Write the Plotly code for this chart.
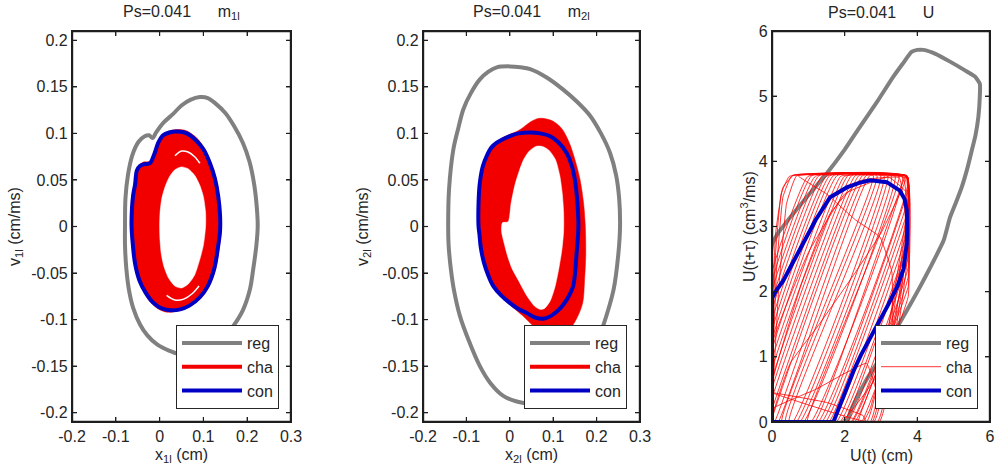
import plotly.graph_objects as go

W, H = 995, 475
FONT = "Liberation Sans, Arial, sans-serif"
AX = "#262626"
FRAME = "#1e1e1e"
GRAY = "#808080"
RED = "#f20000"
BLUE = "#0000c4"

# ---------------- tick values / labels ----------------
p12_xticks = [-0.2, -0.1, 0, 0.1, 0.2, 0.3]
p12_xlabels = ["-0.2", "-0.1", "0", "0.1", "0.2", "0.3"]
p12_yticks = [-0.2, -0.15, -0.1, -0.05, 0, 0.05, 0.1, 0.15, 0.2]
p12_ylabels = ["-0.2", "-0.15", "-0.1", "-0.05", "0", "0.05", "0.1", "0.15", "0.2"]
p3_xticks = [0, 2, 4, 6]
p3_yticks = [0, 1, 2, 3, 4, 5, 6]

# ---------------- panel 1 : m1l  (x1l, v1l) ----------------
reg1 = [(-0.079, 0.0), (-0.078, 0.03), (-0.072, 0.056), (-0.062, 0.077), (-0.048, 0.091),
        (-0.034, 0.097), (-0.024, 0.098), (-0.016, 0.095), (-0.008, 0.101), (0.01, 0.112),
        (0.031, 0.121), (0.05, 0.13), (0.07, 0.136), (0.092, 0.139), (0.11, 0.138),
        (0.128, 0.132), (0.15, 0.122), (0.17, 0.108), (0.19, 0.09), (0.205, 0.07),
        (0.216, 0.045), (0.222, 0.02), (0.224, 0.0), (0.221, -0.02), (0.214, -0.045),
        (0.206, -0.068), (0.19, -0.09), (0.168, -0.107), (0.14, -0.123), (0.105, -0.134),
        (0.075, -0.138), (0.045, -0.137), (0.02, -0.133), (-0.005, -0.127), (-0.028, -0.117),
        (-0.045, -0.105), (-0.06, -0.088), (-0.07, -0.068), (-0.076, -0.045), (-0.079, -0.02),
        (-0.079, 0.0)]
con1 = [(-0.064, 0.0), (-0.063, 0.02), (-0.06, 0.035), (-0.056, 0.045), (-0.052, 0.06),
        (-0.045, 0.065), (-0.035, 0.067), (-0.022, 0.068), (-0.012, 0.078), (-0.003, 0.09),
        (0.008, 0.098), (0.022, 0.101), (0.04, 0.102), (0.062, 0.1), (0.082, 0.093),
        (0.1, 0.083), (0.115, 0.068), (0.126, 0.052), (0.134, 0.032), (0.138, 0.012),
        (0.138, -0.005), (0.134, -0.02), (0.125, -0.045), (0.11, -0.064), (0.092, -0.076),
        (0.068, -0.085), (0.047, -0.089), (0.025, -0.09), (0.005, -0.088), (-0.014, -0.082),
        (-0.032, -0.071), (-0.046, -0.058), (-0.056, -0.04), (-0.061, -0.02), (-0.064, 0.0)]
cha1_outer = [(-0.066, 0.0), (-0.064, 0.03), (-0.058, 0.046), (-0.052, 0.062), (-0.038, 0.069),
              (-0.022, 0.07), (-0.01, 0.082), (0.0, 0.094), (0.015, 0.101), (0.035, 0.104),
              (0.06, 0.103), (0.085, 0.095), (0.105, 0.082), (0.12, 0.065), (0.132, 0.045),
              (0.139, 0.02), (0.141, 0.0), (0.137, -0.02), (0.128, -0.045), (0.112, -0.065),
              (0.092, -0.078), (0.065, -0.087), (0.04, -0.091), (0.016, -0.092), (-0.005, -0.088),
              (-0.025, -0.079), (-0.042, -0.064), (-0.055, -0.045), (-0.062, -0.025), (-0.066, 0.0)]
cha1_inner = [(0.0, 0.0), (0.001, 0.015), (0.005, 0.03), (0.012, 0.042), (0.022, 0.053),
              (0.035, 0.061), (0.05, 0.064), (0.065, 0.062), (0.08, 0.055), (0.092, 0.044),
              (0.1, 0.032), (0.105, 0.015), (0.105, 0.0), (0.1, -0.02), (0.092, -0.035),
              (0.08, -0.052), (0.065, -0.062), (0.05, -0.066), (0.035, -0.064), (0.02, -0.055),
              (0.01, -0.043), (0.004, -0.03), (0.001, -0.015), (0.0, 0.0)]
cha1_gap_top = [(0.035, 0.076), (0.05, 0.081), (0.065, 0.08), (0.08, 0.075), (0.092, 0.068)]
cha1_gap_bot = [(0.016, -0.074), (0.035, -0.079), (0.055, -0.078), (0.075, -0.072), (0.09, -0.064)]

# ---------------- panel 2 : m2l  (x2l, v2l) ----------------
reg2 = [(-0.142, 0.0), (-0.14, 0.04), (-0.13, 0.083), (-0.118, 0.107), (-0.107, 0.126),
        (-0.09, 0.143), (-0.069, 0.158), (-0.05, 0.166), (-0.03, 0.171), (0.0, 0.172),
        (0.025, 0.171), (0.047, 0.169), (0.085, 0.16), (0.123, 0.147), (0.155, 0.134),
        (0.185, 0.119), (0.21, 0.1), (0.231, 0.079), (0.245, 0.055), (0.252, 0.03),
        (0.254, 0.0), (0.25, -0.03), (0.239, -0.068), (0.212, -0.111), (0.19, -0.138),
        (0.16, -0.16), (0.12, -0.178), (0.08, -0.188), (0.04, -0.19), (0.016, -0.188),
        (-0.015, -0.182), (-0.045, -0.168), (-0.069, -0.15), (-0.095, -0.122), (-0.115, -0.096),
        (-0.128, -0.07), (-0.136, -0.045), (-0.141, -0.02), (-0.142, 0.0)]
con2 = [(-0.072, 0.0), (-0.072, 0.025), (-0.069, 0.047), (-0.062, 0.065), (-0.053, 0.076),
        (-0.042, 0.085), (-0.03, 0.09), (-0.015, 0.094), (0.0, 0.097), (0.02, 0.1),
        (0.047, 0.101), (0.07, 0.1), (0.093, 0.097), (0.113, 0.09), (0.131, 0.079),
        (0.143, 0.065), (0.15, 0.05), (0.155, 0.03), (0.158, 0.0), (0.154, -0.028),
        (0.146, -0.064), (0.132, -0.078), (0.116, -0.088), (0.095, -0.096), (0.077, -0.099),
        (0.06, -0.098), (0.039, -0.093), (0.018, -0.088), (0.0, -0.082), (-0.02, -0.074),
        (-0.038, -0.064), (-0.05, -0.052), (-0.06, -0.038), (-0.067, -0.022), (-0.07, -0.008),
        (-0.072, 0.0)]
cha2_outer = [(-0.074, 0.0), (-0.073, 0.03), (-0.068, 0.055), (-0.058, 0.072), (-0.045, 0.084),
              (-0.025, 0.093), (0.0, 0.099), (0.02, 0.103), (0.035, 0.108), (0.05, 0.113),
              (0.065, 0.116), (0.08, 0.116), (0.1, 0.113), (0.12, 0.105), (0.137, 0.09),
              (0.15, 0.072), (0.162, 0.05), (0.17, 0.025), (0.174, 0.0), (0.175, -0.03),
              (0.172, -0.06), (0.168, -0.082), (0.155, -0.098), (0.138, -0.11), (0.115, -0.115),
              (0.09, -0.116), (0.07, -0.113), (0.05, -0.105), (0.03, -0.096), (0.01, -0.088),
              (-0.015, -0.078), (-0.035, -0.066), (-0.05, -0.052), (-0.062, -0.035),
              (-0.069, -0.018), (-0.074, 0.0)]
cha2_inner = [(-0.019, -0.005), (-0.017, 0.004), (-0.004, 0.005), (0.003, 0.025), (0.012, 0.045),
              (0.022, 0.06), (0.032, 0.072), (0.045, 0.081), (0.06, 0.086), (0.075, 0.086),
              (0.09, 0.082), (0.105, 0.072), (0.115, 0.055), (0.121, 0.035), (0.124, 0.015),
              (0.124, -0.005), (0.12, -0.025), (0.113, -0.045), (0.104, -0.065), (0.093, -0.08),
              (0.08, -0.088), (0.07, -0.089), (0.058, -0.086), (0.04, -0.075), (0.02, -0.058),
              (0.005, -0.045), (-0.005, -0.032), (-0.013, -0.018), (-0.019, -0.005)]

# ---------------- panel 3 : U  (U(t), U(t+tau)) ----------------
reg3 = [(0, 0), (0, 2.72), (0.17, 2.9), (0.5, 3.14), (1.0, 3.48), (1.5, 3.81), (2.0, 4.18),
        (2.42, 4.53), (2.9, 4.92), (3.34, 5.3), (3.6, 5.5), (3.84, 5.68), (4.0, 5.71),
        (4.17, 5.71), (4.5, 5.65), (4.9, 5.53), (5.3, 5.4), (5.59, 5.3), (5.72, 5.19),
        (5.72, 5.0), (5.68, 4.68), (5.6, 4.4), (5.5, 4.17), (5.38, 3.9), (5.22, 3.6),
        (5.05, 3.35), (4.9, 3.14), (4.72, 2.78), (4.4, 2.42), (4.07, 2.07), (3.7, 1.7),
        (3.34, 1.35), (3.0, 1.0), (2.6, 0.65), (2.33, 0.37), (2.15, 0.15), (2.06, 0.0), (0, 0)]
con3 = [(0, 0), (0, 1.9), (0.13, 2.03), (0.31, 2.17), (0.55, 2.42), (0.86, 2.73), (1.2, 3.1),
        (1.6, 3.45), (2.06, 3.6), (2.4, 3.67), (2.7, 3.71), (3.16, 3.68), (3.52, 3.55),
        (3.65, 3.42), (3.71, 3.25), (3.72, 3.0), (3.71, 2.73), (3.62, 2.35), (3.45, 2.08),
        (3.2, 1.8), (2.95, 1.55), (2.7, 1.3), (2.45, 1.03), (2.24, 0.78), (2.0, 0.45),
        (1.85, 0.25), (1.69, 0.0), (0, 0)]
# chaotic orbit: zig-zag of near-parallel rising / falling strokes (vertices)
cha3_path = [
    (0, 0.2), (2.39, 3.78), (3.19, 3.77), (0.67, 0), (0, 0), (0, 1.4), (1.59, 3.78),
    (3.72, 3.76), (3.75, 3.43), (1.47, 0), (0.27, 0), (2.79, 3.78), (1.99, 3.77), (0, 0.8),
    (0, 0), (1.07, 0), (3.59, 3.78), (1.19, 3.77), (0, 2.0), (0, 0), (1.87, 0), (3.75, 2.83),
    (3.72, 3.77), (2.59, 3.78), (0.07, 0), (0, 0), (0, 1.1), (1.79, 3.78), (3.72, 3.77),
    (3.75, 2.53), (2.07, 0), (0, 0), (0, 0.5), (2.19, 3.78), (3.39, 3.77), (0.87, 0), (0, 0),
    (0, 1.7), (1.39, 3.78), (3.72, 3.77), (3.75, 3.13), (1.67, 0), (0.47, 0), (2.99, 3.78),
    (0.99, 3.77), (0, 2.3), (0, 0), (1.27, 0), (3.75, 3.73), (2.49, 3.78), (0, 0.05), (0, 0),
    (2.27, 0), (3.75, 2.23), (3.72, 3.77), (1.69, 3.78), (0, 1.25), (0, 0), (0.17, 0),
    (2.69, 3.78), (3.72, 3.77), (3.75, 3.58), (1.37, 0), (0, 0), (0, 0.65), (2.09, 3.78),
    (3.29, 3.77), (0.77, 0), (0, 0), (0, 1.85), (1.29, 3.78), (3.72, 3.77), (3.75, 2.98),
    (1.77, 0), (0.37, 0), (2.89, 3.78), (1.89, 3.77), (0, 0.95), (0, 0), (1.17, 0),
    (3.69, 3.78), (3.75, 2.38), (2.17, 0), (0, 0), (0, 0.35), (2.29, 3.78), (3.09, 3.77),
    (0.57, 0), (0, 0), (0, 2.15), (1.09, 3.78), (3.72, 3.77), (3.75, 3.28), (1.57, 0),
    (0.97, 0), (3.49, 3.78), (1.49, 3.77), (0, 1.55), (0, 0), (1.97, 0), (3.75, 2.68),
    (3.75, 2.08), (2.37, 0), (2.47, 0), (3.75, 1.93), (3.75, 3.2), (2.75, 0),
    # steep rises hugging the left axis, flat top, near-vertical right edge
    (0, 0), (0, 0.5), (0.12, 2.3), (0.3, 3.45), (0.55, 3.78), (3.7, 3.78), (3.75, 2.9), (2.9, 0),
    (0, 0), (0, 1.0), (0.1, 2.6), (0.25, 3.5), (0.48, 3.77), (3.6, 3.76), (3.74, 2.6), (2.95, 0),
    (0, 0), (0, 0.2), (0.18, 2.0), (0.4, 3.35), (0.68, 3.78), (3.72, 3.78), (3.75, 3.4), (2.6, 0),
    (0, 0), (0, 1.5), (0.1, 2.9), (0.3, 3.6), (0.6, 3.79), (3.7, 3.77), (3.75, 3.0), (2.8, 0),
    # a few strokes with other slopes that cross the hatching
    (0, 0), (0, 0.6), (0.8, 2.1), (1.6, 3.2), (2.4, 3.7), (3.5, 3.75), (3.7, 2.9), (3.1, 1.2),
    (2.2, 0), (0, 0), (0, 1.2), (1.0, 2.6), (2.0, 3.5), (3.2, 3.76), (3.74, 3.5), (3.6, 2.2),
    (3.0, 0.8), (1.9, 0), (0, 0), (0.5, 0.9), (1.3, 1.5), (2.3, 2.3), (3.0, 2.9), (3.6, 3.6),
    # one wide arc and a few low strokes along the bottom
    (3.7, 3.78), (0.72, 3.78), (1.5, 3.5), (2.3, 3.1), (2.97, 2.84),
    (3.3, 2.3), (3.3, 1.5), (2.7, 0.2), (2.5, 0), (0, 0), (0, 0.2), (1.2, 0.5), (2.6, 0.9),
    (2.9, 0.4), (2.7, 0), (0, 0.45), (1.5, 0.3), (2.5, 0.1), (2.6, 0),
]


def xs(pts):
    return [p[0] for p in pts]


def ys(pts):
    return [p[1] for p in pts]


fig = go.Figure()


def spline(color, width, smoothing=0.9):
    return dict(color=color, width=width, shape="spline", smoothing=smoothing)


def band_panel(xa, ya, leg, reg, con, outer, inner, gaps):
    fig.add_trace(go.Scatter(x=xs(reg), y=ys(reg), mode="lines", name="reg",
                             line=spline(GRAY, 4), xaxis=xa, yaxis=ya, legend=leg))
    fig.add_trace(go.Scatter(x=xs(outer), y=ys(outer), mode="lines", fill="toself",
                             fillcolor=RED, line=dict(color=RED, width=0.5, shape="spline", smoothing=0.9),
                             showlegend=False, xaxis=xa, yaxis=ya, hoverinfo="skip"))
    fig.add_trace(go.Scatter(x=xs(inner), y=ys(inner), mode="lines", fill="toself",
                             fillcolor="white", line=dict(color="white", width=0.5, shape="spline", smoothing=0.7),
                             showlegend=False, xaxis=xa, yaxis=ya, hoverinfo="skip"))
    for g in gaps:
        fig.add_trace(go.Scatter(x=xs(g), y=ys(g), mode="lines", line=spline("white", 1.5),
                                 showlegend=False, xaxis=xa, yaxis=ya, hoverinfo="skip"))
    fig.add_trace(go.Scatter(x=[None], y=[None], mode="lines", name="cha",
                             line=dict(color=RED, width=4), xaxis=xa, yaxis=ya, legend=leg))
    fig.add_trace(go.Scatter(x=xs(con), y=ys(con), mode="lines", name="con",
                             line=spline(BLUE, 4), xaxis=xa, yaxis=ya, legend=leg))


band_panel("x", "y", "legend", reg1, con1, cha1_outer, cha1_inner, [cha1_gap_top, cha1_gap_bot])
band_panel("x2", "y2", "legend2", reg2, con2, cha2_outer, cha2_inner, [])

fig.add_trace(go.Scatter(x=xs(reg3), y=ys(reg3), mode="lines", name="reg",
                         line=spline(GRAY, 4, 0.5), xaxis="x3", yaxis="y3", legend="legend3"))
fig.add_trace(go.Scatter(x=xs(cha3_path), y=ys(cha3_path), mode="lines", name="cha",
                         line=dict(color="#ff0000", width=0.8, shape="spline", smoothing=0.3),
                         xaxis="x3", yaxis="y3", legend="legend3"))
fig.add_trace(go.Scatter(x=xs(con3), y=ys(con3), mode="lines", name="con",
                         line=dict(color=BLUE, width=4), xaxis="x3", yaxis="y3", legend="legend3"))

# ---------------- layout ----------------
def px_x(p):
    return p / W


def px_y(p):
    return 1 - p / H


TOP, BOT = 31, 422
panels = [(72, 291), (423, 640), (772, 990)]

axis_common = dict(showline=True, mirror="allticks", linecolor=FRAME, linewidth=1.2,
                   ticks="inside", ticklen=5, tickwidth=1.2, tickcolor=FRAME,
                   showgrid=False, zeroline=False, automargin=False, layer="above traces",
                   tickfont=dict(family=FONT, size=16, color=AX), fixedrange=True)

layout = dict(template="none", width=W, height=H, autosize=False,
              margin=dict(l=0, r=0, t=0, b=0, pad=0),
              paper_bgcolor="white", plot_bgcolor="rgba(255,255,255,0)",
              font=dict(family=FONT, color=AX, size=16))

for i, (l, r) in enumerate(panels):
    sx = "" if i == 0 else str(i + 1)
    xa, ya = "x" + sx, "y" + sx
    ax = dict(axis_common, domain=[px_x(l), px_x(r)], anchor=ya)
    ay = dict(axis_common, domain=[px_y(BOT), px_y(TOP)], anchor=xa)
    if i < 2:
        xr, yr, xt, yt = [-0.2, 0.3], [-0.21, 0.21], p12_xticks, p12_yticks
        ax.update(range=xr, tickvals=p12_xticks, ticktext=p12_xlabels)
        ay.update(range=yr, tickvals=p12_yticks, ticktext=p12_ylabels)
    else:
        xr, yr, xt, yt = [0, 6], [0, 6], p3_xticks, p3_yticks
        ax.update(range=xr, tickvals=p3_xticks, ticktext=[str(v) for v in p3_xticks])
        ay.update(range=yr, tickvals=p3_yticks, ticktext=[str(v) for v in p3_yticks])
    layout["xaxis" + sx] = ax
    layout["yaxis" + sx] = ay

    # axes box and mirrored inward ticks, drawn in the subplot's own data space
    tx = 5.0 * (xr[1] - xr[0]) / (r - l)
    ty = 5.0 * (yr[1] - yr[0]) / (BOT - TOP)
    fig.add_trace(go.Scatter(x=[xr[0], xr[1], xr[1], xr[0], xr[0]], y=[yr[0], yr[0], yr[1], yr[1], yr[0]],
                             mode="lines", line=dict(color=FRAME, width=2.4), showlegend=False,
                             hoverinfo="skip", xaxis=xa, yaxis=ya))
    tkx, tky = [], []
    for v in xt:
        tkx += [v, v, None, v, v, None]
        tky += [yr[0], yr[0] + ty, None, yr[1] - ty, yr[1], None]
    for v in yt:
        tkx += [xr[0], xr[0] + tx, None, xr[1] - tx, xr[1], None]
        tky += [v, v, None, v, v, None]
    fig.add_trace(go.Scatter(x=tkx, y=tky, mode="lines", line=dict(color=FRAME, width=1.2),
                             showlegend=False, hoverinfo="skip", xaxis=xa, yaxis=ya))

leg_right = [279, 627, 978]
for i, lr in enumerate(leg_right):
    key = "legend" if i == 0 else "legend" + str(i + 1)
    layout[key] = dict(x=px_x(lr), y=px_y(409), xanchor="right", yanchor="bottom",
                       bgcolor="white", bordercolor=AX, borderwidth=1,
                       font=dict(family=FONT, size=16, color=AX), itemwidth=60,
                       tracegroupgap=0)

fig.update_layout(**layout)

NB = "&nbsp;" * 6
titles = ["Ps=0.041" + NB + "m<sub>1l</sub>", "Ps=0.041" + NB + "m<sub>2l</sub>", "Ps=0.041" + NB + "U"]
xlabels = ["x<sub>1l</sub> (cm)", "x<sub>2l</sub> (cm)", "U(t) (cm)"]
ylabels = ["v<sub>1l</sub> (cm/ms)", "v<sub>2l</sub> (cm/ms)", "U(t+\u03c4) (cm<sup>3</sup>/ms)"]
ylabel_x = [15, 363, 748]

for i, (l, r) in enumerate(panels):
    cx = px_x((l + r) / 2)
    fig.add_annotation(text=titles[i], x=cx, y=px_y(12), xref="paper", yref="paper",
                       showarrow=False, xanchor="center", yanchor="middle",
                       font=dict(family=FONT, size=16, color=AX))
    fig.add_annotation(text=xlabels[i], x=cx, y=px_y(455), xref="paper", yref="paper",
                       showarrow=False, xanchor="center", yanchor="middle",
                       font=dict(family=FONT, size=16, color=AX))
    fig.add_annotation(text=ylabels[i], x=px_x(ylabel_x[i]), y=px_y(227), xref="paper", yref="paper",
                       showarrow=False, xanchor="center", yanchor="middle", textangle=-90,
                       font=dict(family=FONT, size=16, color=AX))

# remove the default 8 px page margin so the figure fills the 995x475 window exactly
fig.write_html("out.html", config={"displayModeBar": False},
               post_script="document.body.style.margin='0px';")
